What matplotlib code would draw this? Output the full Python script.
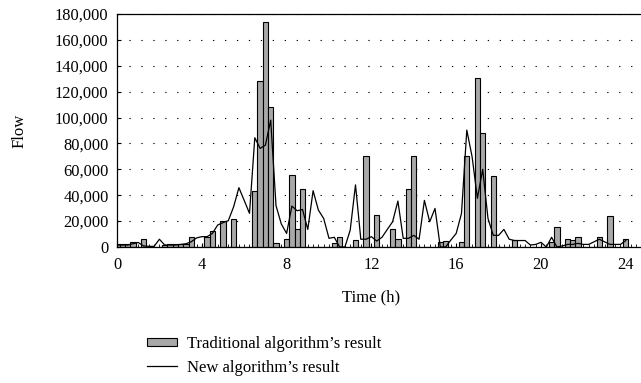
import matplotlib
matplotlib.use("Agg")
import matplotlib.pyplot as plt
from matplotlib.ticker import FuncFormatter, MultipleLocator
from matplotlib.patches import Patch
from matplotlib.lines import Line2D

plt.rcParams['font.family'] = ['Liberation Serif', 'DejaVu Serif']
plt.rcParams['lines.scale_dashes'] = False

# time in hours, 15-minute steps
time_h = [i * 0.25 for i in range(97)]

traditional = [
    2000, 2000, 2000, 4000, 0, 6000, 0, 0,
    0, 1500, 2000, 2000, 2000, 2000, 8000, 0,
    0, 8000, 12400, 0, 20000, 0, 22000, 0,
    0, 0, 43000, 128400, 174200, 108300, 2800, 0,
    6000, 56000, 13600, 45000, 0, 0, 0, 0,
    0, 3400, 8000, 0, 0, 5500, 0, 70000,
    0, 25000, 0, 0, 14000, 6000, 0, 45000,
    70000, 0, 0, 0, 0, 3700, 4500, 0,
    0, 3600, 70300, 0, 130200, 88000, 0, 55000,
    0, 0, 0, 5200, 0, 0, 0, 0,
    0, 0, 4000, 15700, 0, 6000, 5200, 8000,
    0, 0, 0, 8000, 0, 24000, 0, 0,
    6000,
]

new_algorithm = [
    1500, 1500, 1500, 2500, 3500, 800, 500, 500,
    6000, 1500, 1500, 1500, 2000, 2500, 4000, 7000,
    8000, 8000, 10500, 17000, 18800, 20300, 31000, 45800,
    36000, 26000, 84400, 76200, 78700, 98000, 32000, 17800,
    10500, 31600, 28000, 29000, 13600, 43500, 28500, 22000,
    6700, 7500, 0, 0, 13000, 48000, 6000, 6000,
    8000, 4600, 7500, 13600, 19500, 35500, 6700, 6700,
    9000, 6000, 36000, 19500, 29800, 0, 0, 5400,
    10500, 26000, 90300, 69700, 37600, 60000, 22000, 9000,
    9000, 13600, 6000, 5000, 5000, 5000, 1500, 2000,
    3600, 0, 7500, 0, 800, 2000, 2000, 2800,
    2000, 2000, 4000, 6000, 4000, 2000, 2000, 2000,
    5000,
]

x_ticks = [0, 4, 8, 12, 16, 20, 24]
y_ticks = list(range(0, 180001, 20000))

W, H = 641, 383
fig = plt.figure(figsize=(W / 100, H / 100), dpi=100)
left, right, top, bottom = 117, 640, 14, 247
ax = fig.add_axes([left / W, 1 - bottom / H, (right - left) / W, (bottom - top) / H])

bar_color = '#a8a8a8'
ax.bar(time_h, traditional, width=0.25, color=bar_color, edgecolor='black',
       linewidth=0.8, zorder=2)
ax.plot(time_h, new_algorithm, color='black', linewidth=0.9, zorder=3)

ax.set_xlim(0, (right - left) / 21.2)
ax.set_ylim(0, 180000)
ax.set_xticks(x_ticks)
ax.xaxis.set_minor_locator(MultipleLocator(0.25))
ax.set_yticks(y_ticks)
ax.yaxis.set_major_formatter(FuncFormatter(lambda v, p: f"{int(v):,}"))

ax.tick_params(axis='both', which='major', direction='in', labelsize=11.8,
               width=0.8, color='black')
ax.tick_params(axis='x', which='major', length=3, pad=7)
ax.tick_params(axis='x', which='minor', direction='in', length=2, width=0.6)
ax.tick_params(axis='y', which='major', length=3, pad=6)

ax.spines['right'].set_visible(False)
for s in ['left', 'bottom', 'top']:
    ax.spines[s].set_linewidth(0.9)

ax.yaxis.grid(True, linestyle=(0, (0.9, 7.7)), color='black', linewidth=0.8, zorder=0)
ax.set_axisbelow(True)

ax.set_xlabel('Time (h)', fontsize=12)
ax.xaxis.set_label_coords(12 / ax.get_xlim()[1], -0.18)
ax.set_ylabel('Flow', fontsize=12)
ax.yaxis.set_label_coords(-0.172, 0.5)

handles = [Patch(facecolor=bar_color, edgecolor='black', linewidth=0.8),
           Line2D([0], [0], color='black', linewidth=0.9)]
labels = ['Traditional algorithm\u2019s result', 'New algorithm\u2019s result']
fig.legend(handles, labels, loc='upper left', bbox_to_anchor=(147 / W, 1 - 336 / H),
           frameon=False, fontsize=12, handlelength=1.8, handleheight=0.4,
           handletextpad=0.6, labelspacing=0.45, borderpad=0, borderaxespad=0)

fig.savefig('out.png', dpi=100)
